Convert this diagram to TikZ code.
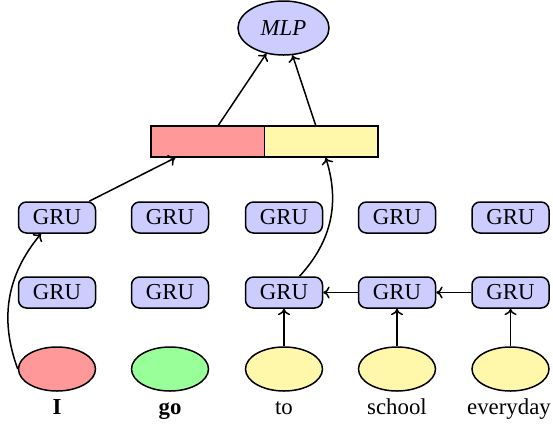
\documentclass[tikz,border=0pt]{standalone}
\usepackage{fontspec}
\setmainfont{Liberation Serif}
\usetikzlibrary{shapes.geometric,arrows.meta}
\definecolor{pinkc}{RGB}{255,153,153}
\definecolor{greenc}{RGB}{153,255,153}
\definecolor{yellowc}{RGB}{255,247,170}
\definecolor{bluec}{RGB}{204,204,255}
\begin{document}
\begin{tikzpicture}[x=0.5pt,y=-0.5pt,
  font=\fontsize{11.4}{13}\selectfont, line width=0.75pt,
  gru/.style={draw, fill=bluec, rounded corners=4pt, minimum width=38.5pt, minimum height=15.5pt, inner sep=0pt},
  word/.style={draw, ellipse, minimum width=38.5pt, minimum height=22pt, inner sep=0pt},
  half/.style={draw, minimum width=56.75pt, minimum height=15.5pt, inner sep=0pt},
  lbl/.style={anchor=base, inner sep=0pt},
  arr/.style={-{To[length=3.2pt,width=6pt]}}]
\useasboundingbox (0,0) rectangle (553,425);
\node[draw, ellipse, fill=bluec, minimum width=45.5pt, minimum height=27pt, inner sep=0pt] (mlp) at (283.5,28) {\textit{MLP}};
\node[half, fill=pinkc] (rl) at (207.5,141.5) {};
\node[half, fill=yellowc] (rr) at (321,141.5) {};
\foreach \i/\x in {1/57,2/170,3/284,4/397,5/510.5}{
  \node[gru] (g1\i) at (\x,217.5) {GRU};
  \node[gru] (g2\i) at (\x,292.5) {GRU};
}
\node[word, fill=pinkc] (e1) at (57,369) {};
\node[word, fill=greenc] (e2) at (170,369) {};
\node[word, fill=yellowc] (e3) at (284,369) {};
\node[word, fill=yellowc] (e4) at (397,369) {};
\node[word, fill=yellowc] (e5) at (510.5,369) {};
\node[lbl] (l1) at (57,414) {\textbf{I}};
\node[lbl] (l2) at (170,414) {\textbf{go}};
\node[lbl] (l3) at (284,414) {to};
\node[lbl] (l4) at (397,414) {school};
\node[lbl] (l5) at (509,414) {everyday};
\draw[arr] (g11) -- (rl);
\draw[arr] (rl) -- (mlp);
\draw[arr] (rr) -- (mlp);
\draw[arr] (e1.west) to[bend left] (g11);
\draw[arr] (g23) to[bend right] (rr);
\draw[arr] (e3) -- (g23);
\draw[arr] (e4) -- (g24);
\draw[arr] (e5) -- (g25);
\draw[arr] (g25) -- (g24);
\draw[arr] (g24) -- (g23);
\end{tikzpicture}
\end{document}
